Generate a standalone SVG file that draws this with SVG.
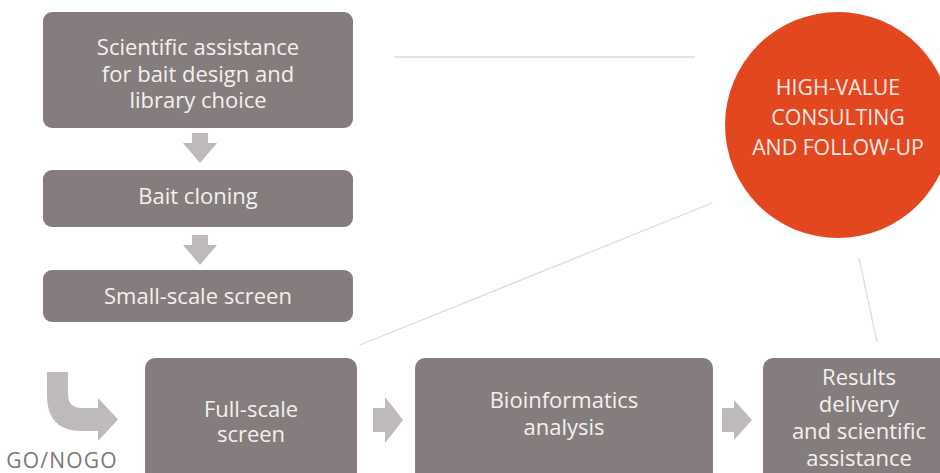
<svg xmlns="http://www.w3.org/2000/svg" width="940" height="473" viewBox="0 0 940 473">
<style>
.box{fill:#857d7d}
.t{font-family:"Open Sans","Noto Sans",sans-serif;font-size:22px;fill:#f4f0ee;text-anchor:middle}
.c{font-family:"Open Sans","Noto Sans",sans-serif;font-size:21.3px;fill:#fbe9e2;text-anchor:middle}
.arr{fill:#bfbaba}
.ln{stroke:#dedcdc;stroke-width:1.3;fill:none}
</style>
<rect width="940" height="473" fill="#ffffff"/>
<g id="connectors">
<line class="ln" x1="394" y1="57" x2="695" y2="57"/>
<line class="ln" x1="360" y1="345" x2="712" y2="203"/>
<line class="ln" x1="859" y1="258" x2="877" y2="342"/>
<path class="arr" d="M192,133 H208 V143 H217 L200,163 L183,143 H192 Z"/>
<path class="arr" d="M192,235 H208 V245 H217 L200,265 L183,245 H192 Z"/>
<path class="arr" d="M373,408 H385 V397 L403,420 L385,443 V432 H373 Z"/>
<path class="arr" d="M722,408 H734 V400 L752,420 L734,440 V432 H722 Z"/>
<path class="arr" d="M47,372 H68 V394 Q68,408 82,408 H98 V398 L118,419.5 L98,441 V431 H82 Q47,431 47,396 Z"/>
</g>
<g id="n1">
<rect class="box" x="43" y="12" width="310" height="116" rx="9"/>
<text class="t" x="198" y="55">Scientific assistance</text>
<text class="t" x="198" y="82">for bait design and</text>
<text class="t" x="198" y="108">library choice</text>
</g>
<g id="n2">
<rect class="box" x="43" y="170" width="310" height="57" rx="9"/>
<text class="t" x="198" y="204">Bait cloning</text>
</g>
<g id="n3">
<rect class="box" x="43" y="270" width="310" height="52" rx="9"/>
<text class="t" x="198" y="304">Small-scale screen</text>
</g>
<g id="n4">
<rect class="box" x="145" y="358" width="212" height="125" rx="10"/>
<text class="t" x="251" y="417">Full-scale</text>
<text class="t" x="251" y="442">screen</text>
</g>
<g id="n5">
<rect class="box" x="415" y="358" width="298" height="125" rx="10"/>
<text class="t" x="564" y="408">Bioinformatics</text>
<text class="t" x="564" y="435">analysis</text>
</g>
<g id="n6">
<rect class="box" x="763" y="358" width="200" height="125" rx="10"/>
<text class="t" x="859" y="385">Results</text>
<text class="t" x="859" y="412">delivery</text>
<text class="t" x="859" y="439">and scientific</text>
<text class="t" x="859" y="466">assistance</text>
</g>
<g id="n7">
<circle cx="838" cy="125" r="113" fill="#e2471f"/>
<text class="c" x="838" y="95">HIGH-VALUE</text>
<text class="c" x="838" y="125">CONSULTING</text>
<text class="c" x="838" y="155">AND FOLLOW-UP</text>
</g>
<g id="gonogo">
<text x="62" y="468" font-family="'Open Sans','Noto Sans',sans-serif" font-size="21" letter-spacing="1.2" fill="#7c7676" text-anchor="middle">GO/NOGO</text>
</g>
</svg>
